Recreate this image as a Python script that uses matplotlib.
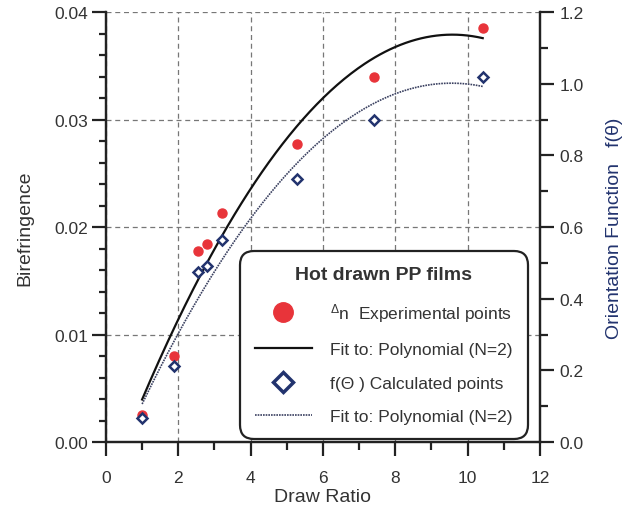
import numpy as np
import matplotlib
matplotlib.use("Agg")
import matplotlib.pyplot as plt
from matplotlib.lines import Line2D
from matplotlib.ticker import MultipleLocator, FormatStrFormatter

plt.rcParams['font.family'] = ['Liberation Sans', 'DejaVu Sans']
plt.rcParams['mathtext.fontset'] = 'custom'
plt.rcParams['mathtext.rm'] = 'Liberation Sans'
plt.rcParams['mathtext.it'] = 'Liberation Sans'

# Data
draw_ratio_exp = [1.0, 1.88, 2.55, 2.80, 3.20, 5.29, 7.40, 10.42]
birefringence = [0.0025, 0.0080, 0.0178, 0.0184, 0.0213, 0.0277, 0.0340, 0.0385]
draw_ratio_calc = [1.0, 1.88, 2.55, 2.80, 3.20, 5.29, 7.42, 10.42]
orientation_f = [0.066, 0.212, 0.474, 0.490, 0.564, 0.734, 0.898, 1.018]

legend_title = "Hot drawn PP films"
legend_labels = [r"$^{\Delta}$n  Experimental points",
                 "Fit to: Polynomial (N=2)",
                 "f(Θ ) Calculated points",
                 "Fit to: Polynomial (N=2)"]

RED = '#e8343a'
NAVY = '#22336e'
TXT = '#333333'

fig = plt.figure(figsize=(6.27, 5.06), dpi=100)
ax = fig.add_axes([0.169, 0.1245, 0.692, 0.8495])
ax2 = ax.twinx()

# fits
xr = np.array(draw_ratio_exp); yr = np.array(birefringence)
xc = np.array(draw_ratio_calc); yc = np.array(orientation_f)
pr = np.polyfit(xr, yr, 2)
pc = np.polyfit(xc, yc, 2)
xs = np.linspace(min(xr), max(xr), 200)

ax.plot(xs, np.polyval(pr, xs), color='#111111', lw=1.6, zorder=3)
ax.plot(xr, yr, 'o', color=RED, ms=6.5, mec=RED, zorder=4)
ax2.plot(xs, np.polyval(pc, xs), color='#3a4060', lw=1.2, ls=(0, (1, 0.6)), zorder=3)
ax2.plot(xc, yc, 'D', mfc='white', mec=NAVY, mew=1.8, ms=5.5, zorder=4, clip_on=False)

ax.set_xlim(0, 12)
ax.set_ylim(0, 0.04)
ax2.set_ylim(0, 1.2)

ax.xaxis.set_major_locator(MultipleLocator(2))
ax.xaxis.set_minor_locator(MultipleLocator(1))
ax.yaxis.set_major_locator(MultipleLocator(0.01))
ax.yaxis.set_minor_locator(MultipleLocator(0.002))
ax.yaxis.set_major_formatter(FormatStrFormatter('%.2f'))
ax2.yaxis.set_major_locator(MultipleLocator(0.2))
ax2.yaxis.set_minor_locator(MultipleLocator(0.1))
ax2.yaxis.set_major_formatter(FormatStrFormatter('%.1f'))

ax.grid(True, which='major', color='#777777', ls=(0, (4, 3)), lw=0.9)
ax.set_axisbelow(True)

for a in (ax, ax2):
    a.spines['top'].set_visible(False)
    for s in ('left', 'right', 'bottom'):
        a.spines[s].set_linewidth(1.6)
        a.spines[s].set_color('#222222')

ax.tick_params(axis='both', which='major', length=10, width=1.6, labelsize=12.5,
               labelcolor=TXT, color='#222222')
ax.tick_params(axis='both', which='minor', length=6, width=1.6, color='#222222')
ax.tick_params(axis='x', which='major', pad=10)
ax.tick_params(axis='y', which='major', length=10, pad=3)
ax.tick_params(axis='y', which='minor', length=5)
ax2.tick_params(axis='y', which='major', length=10, width=1.6, labelsize=12.5,
                labelcolor=TXT, color='#222222', pad=4)
ax2.tick_params(axis='y', which='minor', length=6, width=1.6, color='#222222')

ax.set_xlabel("Draw Ratio", fontsize=14, color=TXT, labelpad=2)
ax.set_ylabel("Birefringence", fontsize=14, color=TXT, labelpad=15)
ax2.set_ylabel("Orientation Function   f(θ)", fontsize=14, color=NAVY, labelpad=16)

handles = [
    Line2D([], [], marker='o', ls='none', color=RED, ms=14),
    Line2D([], [], color='#111111', lw=1.6),
    Line2D([], [], marker='D', ls='none', mfc='white', mec=NAVY, mew=2.5, ms=10),
    Line2D([], [], color='#3a4060', lw=1.2, ls=(0, (1, 0.6))),
]
leg = ax2.legend(handles, legend_labels, title=legend_title,
                 loc='lower left', bbox_to_anchor=(0.309, 0.007), borderaxespad=0,
                 fontsize=12.5, title_fontproperties={'weight': 'bold', 'size': 14},
                 handlelength=3.3, handletextpad=1.05, labelspacing=1.05,
                 borderpad=0.85, frameon=True, fancybox=True, framealpha=1,
                 edgecolor='#222222')
leg.get_frame().set_linewidth(1.6)
leg.get_frame().set_boxstyle('round', pad=0, rounding_size=0.8)
for t in leg.get_texts():
    t.set_color(TXT)
leg.get_title().set_color(TXT)
leg.set_zorder(10)

fig.savefig("out.png", dpi=100)
